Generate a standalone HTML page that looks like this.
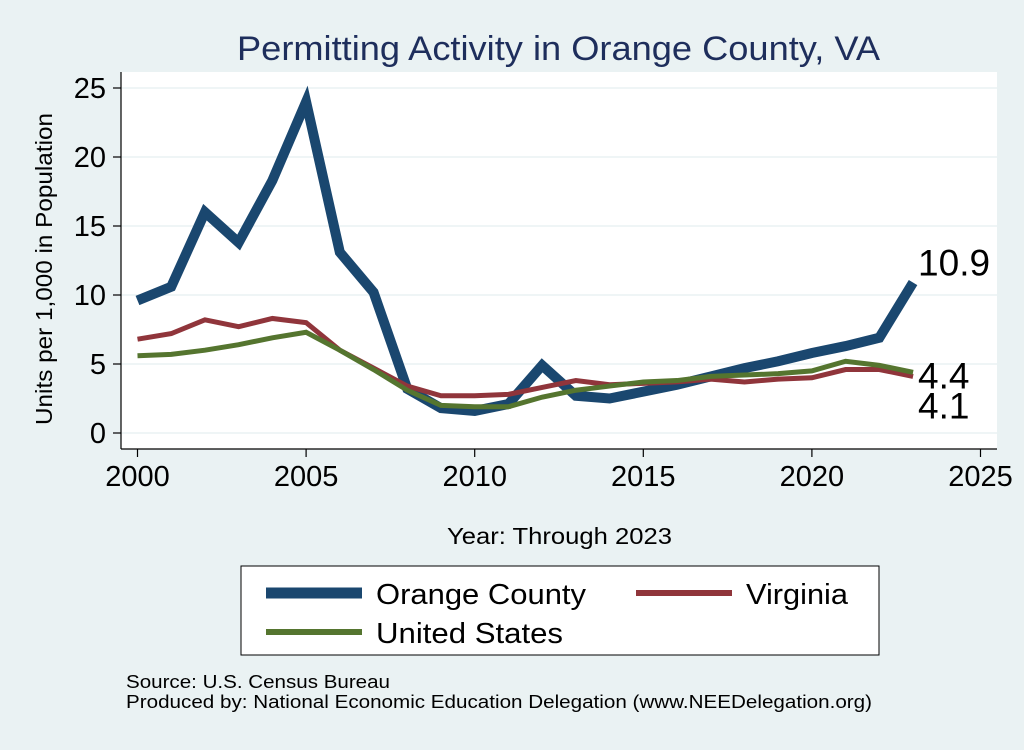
<!DOCTYPE html>
<html><head><meta charset="utf-8"><style>
body{margin:0;width:1024px;height:745px;background:#eaf2f3;font-family:"Liberation Sans",sans-serif;overflow:hidden}
</style></head><body>
<svg width="1024" height="745" id="c">
<rect x="0" y="0" width="1024" height="745" fill="#eaf2f3"/>
<rect x="121" y="72" width="876" height="377" fill="#fff"/>
<text x="237" y="60" textLength="643" lengthAdjust="spacingAndGlyphs" font-size="34" fill="#1e2e5c">Permitting Activity in Orange County, VA</text>
<g id="grid"></g><g id="axes"></g><g id="lines"></g>
<text transform="translate(52,425) rotate(-90)" textLength="312" lengthAdjust="spacingAndGlyphs" font-size="23" fill="#000">Units per 1,000 in Population</text>
<text x="447" y="544" textLength="225" lengthAdjust="spacingAndGlyphs" font-size="23" fill="#000">Year: Through 2023</text>
<g>
<rect x="241" y="566" width="638" height="89" fill="#fff" stroke="#000" stroke-width="1"/>
<line x1="266" y1="593" x2="362" y2="593" stroke="#1a476f" stroke-width="11"/>
<text x="376" y="604" textLength="210" lengthAdjust="spacingAndGlyphs" font-size="29">Orange County</text>
<line x1="636" y1="593" x2="732" y2="593" stroke="#90353b" stroke-width="6"/>
<text x="746" y="604" textLength="102" lengthAdjust="spacingAndGlyphs" font-size="29">Virginia</text>
<line x1="266" y1="632" x2="362" y2="632" stroke="#55752f" stroke-width="6"/>
<text x="376" y="643" textLength="187" lengthAdjust="spacingAndGlyphs" font-size="29">United States</text>
</g>
<text x="126" y="688" textLength="264" lengthAdjust="spacingAndGlyphs" font-size="18">Source: U.S. Census Bureau</text>
<text x="126" y="708" textLength="746" lengthAdjust="spacingAndGlyphs" font-size="18">Produced by: National Economic Education Delegation (www.NEEDelegation.org)</text>
</svg>
<script>
const years=[2000,2001,2002,2003,2004,2005,2006,2007,2008,2009,2010,2011,2012,2013,2014,2015,2016,2017,2018,2019,2020,2021,2022,2023];
const orangeCounty=[9.6,10.6,16.0,13.8,18.3,24.0,13.1,10.2,3.2,1.8,1.6,2.1,4.9,2.7,2.5,3.0,3.5,4.1,4.7,5.2,5.8,6.3,6.9,10.9];
const virginia=[6.8,7.2,8.2,7.7,8.3,8.0,6.0,4.7,3.4,2.7,2.7,2.8,3.3,3.8,3.5,3.6,3.7,3.9,3.7,3.9,4.0,4.6,4.6,4.1];
const unitedStates=[5.6,5.7,6.0,6.4,6.9,7.3,6.0,4.6,3.1,2.0,1.9,1.9,2.6,3.1,3.4,3.7,3.8,4.1,4.2,4.3,4.5,5.2,4.9,4.4];
const xTicks=[2000,2005,2010,2015,2020,2025];
const yTicks=[0,5,10,15,20,25];
const NS='http://www.w3.org/2000/svg';
const X=v=>137.5+(v-2000)*33.72;
const Y=v=>433-v*13.8;
function mk(t,a,p){const e=document.createElementNS(NS,t);for(const k in a)e.setAttribute(k,a[k]);p.appendChild(e);return e;}
const grid=document.getElementById('grid'),axes=document.getElementById('axes'),lines=document.getElementById('lines');
mk('line',{x1:121,y1:72,x2:121,y2:449,stroke:'#000','stroke-width':1.2},axes);
mk('line',{x1:121,y1:449,x2:997,y2:449,stroke:'#000','stroke-width':1.2},axes);
yTicks.forEach(v=>{
 const g=mk('line',{x1:121,y1:Y(v),x2:997,y2:Y(v),stroke:'#eaf2f3','stroke-width':1.5},grid);
 
 
 mk('line',{x1:113,y1:Y(v),x2:121,y2:Y(v),stroke:'#000','stroke-width':1.2},axes);
 const t=mk('text',{x:106,y:Y(v)+10,'text-anchor':'end','font-size':29},axes);t.textContent=v;
 
 
});
xTicks.forEach(v=>{
 mk('line',{x1:X(v),y1:449,x2:X(v),y2:457,stroke:'#000','stroke-width':1.2},axes);
 const t=mk('text',{x:X(v),y:486,'text-anchor':'middle','font-size':29},axes);t.textContent=v;
 
 
});
function series(d,c,w,name){
 const p=mk('polyline',{points:d.map((v,i)=>X(years[i])+','+Y(v)).join(' '),fill:'none',stroke:c,'stroke-width':w,'stroke-linejoin':'miter'},lines);
 
 
}
series(orangeCounty,'#1a476f',10,'line-orange-county');
series(virginia,'#90353b',5,'line-virginia');
series(unitedStates,'#55752f',5,'line-united-states');
const n=years.length-1;
[[orangeCounty,-7],[unitedStates,16],[virginia,42]].forEach(([d,dy])=>{
 const t=mk('text',{x:X(years[n])+5,y:Y(d[n])+dy,'font-size':37},lines);
 t.textContent=d[n].toFixed(1);
 
 
});
</script>
</body></html>
